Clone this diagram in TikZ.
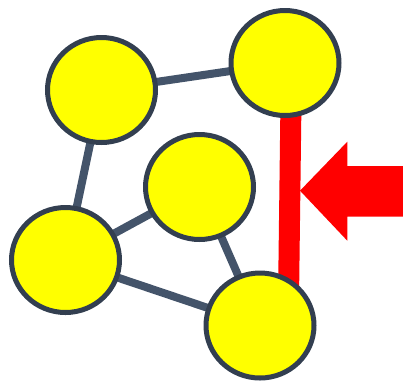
\documentclass[tikz,border=0pt]{standalone}
\usetikzlibrary{shapes.geometric,backgrounds}
\definecolor{nodeborder}{HTML}{333F50}
\definecolor{edgecol}{HTML}{44546A}
\definecolor{nodefill}{HTML}{FFFF00}
\definecolor{redcol}{HTML}{FF0000}
\begin{document}
\begin{tikzpicture}[x=1pt,y=-1pt,
  vertex/.style={ellipse,draw=nodeborder,fill=nodefill,line width=5pt,minimum width=108pt,minimum height=105pt,inner sep=0pt},
  link/.style={draw=edgecol,line width=8pt},
  cutline/.style={draw=redcol,line width=21pt}]
\useasboundingbox (0,0) rectangle (403,381);
\node[vertex] (a) at (101.5,90) {};
\node[vertex] (b) at (285,63) {};
\node[vertex] (c) at (199.5,187) {};
\node[vertex] (d) at (65.5,260) {};
\node[vertex] (e) at (260,325.5) {};
\coordinate (rt) at (291,100);
\coordinate (rb) at (288.5,300);
\begin{scope}[on background layer]
\draw[link] (a.center) -- (b.center);
\draw[link] (a.center) -- (d.center);
\draw[link] (d.center) -- (c.center);
\draw[link] (d.center) -- (e.center);
\draw[link] (c.center) -- (e.center);
\draw[cutline] (rt) -- (rb);
\end{scope}
\fill[redcol] (300,190.7) -- (347.3,141.7) -- (347.3,166) -- (403,166) -- (403,216.7) -- (347.3,216.7) -- (347.3,240.7) -- cycle;
\end{tikzpicture}
\end{document}
